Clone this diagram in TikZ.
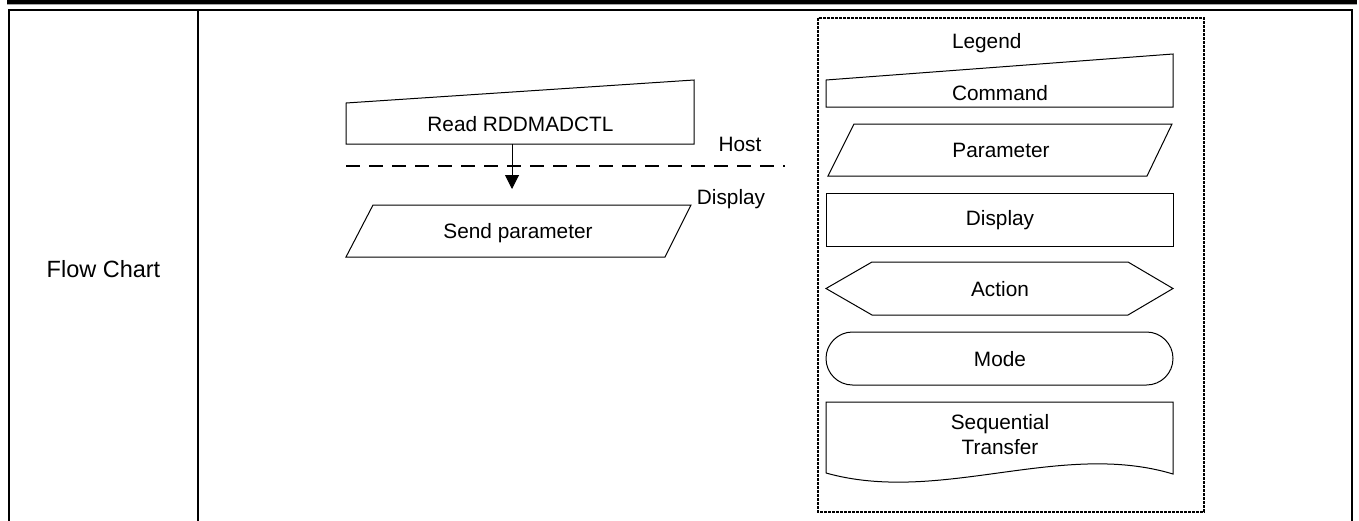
\documentclass[tikz,border=0pt]{standalone}
\usepackage{fontspec}
\setmainfont{Liberation Sans}
\usetikzlibrary{arrows.meta}
\begin{document}
\begin{tikzpicture}[x=1pt,y=-1pt,
  shp/.style={draw=black,line width=1pt,line join=miter},
  txt/.style={inner sep=0pt,anchor=base,font=\fontsize{20.8}{25}\selectfont},
  bigtxt/.style={inner sep=0pt,anchor=base,font=\fontsize{23.5}{28}\selectfont},
  frame/.style={draw=black,line width=2pt},
  legbox/.style={draw=black,line width=1.3pt,dash pattern=on 2.6pt off 1.4pt},
  hostline/.style={draw=black,line width=1.3pt,dash pattern=on 14pt off 9pt},
  arr/.style={draw=black,line width=1pt,-{Triangle[length=14pt,width=14pt]}}]
\useasboundingbox (0,0) rectangle (1359,520);
% top bar
\fill[black] (7,0) rectangle (1357,4);
\fill[black!35] (7,4) rectangle (1357,5.2);
% table frame
\draw[frame] (9,521) -- (9,10) -- (1352,10) -- (1352,521);
\draw[frame] (198,10) -- (198,521);
\node[bigtxt] (fc) at (103.5,277) {Flow Chart};
% command shape
\draw[shp] (346,103) -- (694,80) -- (694,144) -- (346,144) -- cycle;
\node[txt] (cmd) at (520.5,131) {Read RDDMADCTL};
\coordinate (cmdbot) at (512,144);
\coordinate (ah) at (512,189);
\draw[arr] (cmdbot) -- (ah);
% host/display line
\draw[hostline] (346,166) -- (785,166);
\node[txt] (host) at (740,151) {Host};
\node[txt] (disp) at (731,204) {Display};
% parameter
\draw[shp] (373,205) -- (691,205) -- (665,257) -- (346,257) -- cycle;
\node[txt] (sp) at (518,238) {Send parameter};
% legend
\draw[legbox] (818,18) rectangle (1204,512);
\node[txt] (leg) at (986.7,48.3) {Legend};
\draw[shp] (826,80) -- (1173,54) -- (1173,107) -- (826,107) -- cycle;
\node[txt] (lcmd) at (1000,100) {Command};
\draw[shp] (854,124) -- (1172,124) -- (1147,176) -- (828,176) -- cycle;
\node[txt] (lpar) at (1001,157.3) {Parameter};
\draw[shp] (826,193) rectangle (1173,246);
\node[txt] (ldisp) at (1000,225.7) {Display};
\draw[shp] (826,288.5) -- (872,262) -- (1128,262) -- (1173,288.5) -- (1128,315) -- (872,315) -- cycle;
\node[txt] (lact) at (1000,296) {Action};
\draw[shp,rounded corners=26.5pt] (826,332) rectangle (1173,385);
\node[txt] (lmode) at (1000,366) {Mode};
\draw[shp] (826,473) -- (826,402) -- (1173,402) -- (1173,474)
  .. controls (1060,440) and (940,505) .. (826,473);
\node[txt] (lseq1) at (1000,429) {Sequential};
\node[txt] (lseq2) at (1000,454) {Transfer};
\end{tikzpicture}
\end{document}
